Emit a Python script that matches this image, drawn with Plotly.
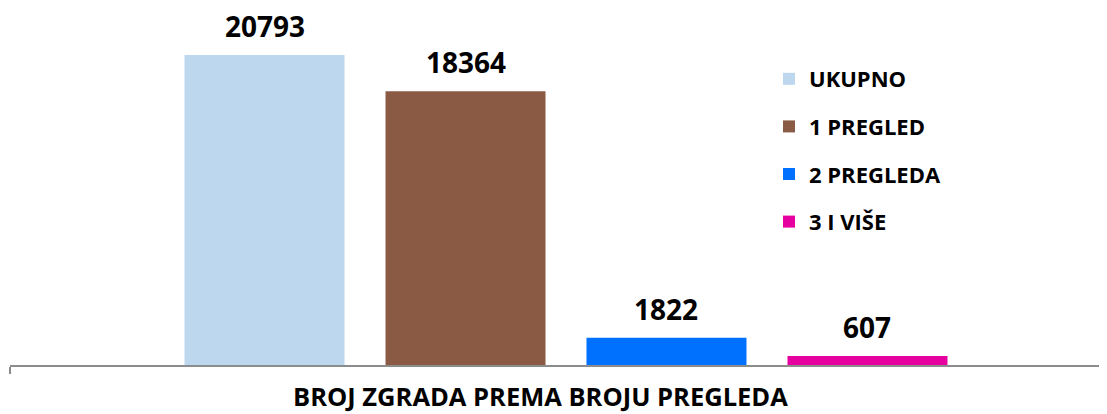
import plotly.graph_objects as go

category = ["BROJ ZGRADA PREMA BROJU PREGLEDA"]
series_names = ["UKUPNO", "1 PREGLED", "2 PREGLEDA", "3 I VIŠE"]
series_values = [20793, 18364, 1822, 607]
series_colors = ["#BDD7EE", "#8B5A45", "#0070FF", "#E600A0"]

# page body has an 8px default margin, so the figure is sized to the visible area
W, H = 1099, 406
ML, MR, MT, MB = 2, 0, 0, 49
BARGAP = 0.277
GROUPGAP = 0.204
PX_PER_CAT = 1112.0
plot_w = W - ML - MR
plot_h = H - MT - MB
x_range = [-0.5, -0.5 + plot_w / PX_PER_CAT]
FONT = "Open Sans"

fig = go.Figure()
for name, val, col in zip(series_names, series_values, series_colors):
    fig.add_trace(go.Bar(
        x=category, y=[val], name="<b>" + name + "</b>",
        marker=dict(color=col, line=dict(width=0)),
        legendgroup=name, hoverinfo="skip",
    ))

slot_px = (1 - BARGAP) * PX_PER_CAT / len(series_names)
for i, val in enumerate(series_values):
    fig.add_annotation(
        x=category[0], y=val, xref="x", yref="y",
        text=f"<b>{val}</b>", showarrow=False,
        xshift=(i - (len(series_values) - 1) / 2) * slot_px,
        yshift=29, yanchor="middle",
        font=dict(family=FONT, size=28, color="#000000"),
    )

fig.add_annotation(
    xref="paper", yref="paper", x=(532 - ML) / plot_w, y=-(388 - plot_h) / plot_h,
    text="<b>" + category[0] + "</b>", showarrow=False, xanchor="center", yanchor="middle",
    font=dict(family=FONT, size=25.5, color="#000000"),
)

fig.update_layout(
    width=W, height=H,
    margin=dict(l=ML, r=MR, t=MT, b=MB, pad=0),
    paper_bgcolor="white", plot_bgcolor="white",
    barmode="group", bargap=BARGAP, bargroupgap=GROUPGAP,
    showlegend=True,
    legend=dict(
        x=(761 - ML) / plot_w, y=1 - 50 / plot_h, xanchor="left", yanchor="top",
        font=dict(family=FONT, size=22, color="#000000"),
        tracegroupgap=16, bgcolor="rgba(0,0,0,0)", traceorder="grouped",
    ),
    xaxis=dict(
        range=x_range, showticklabels=False, showgrid=False, zeroline=False,
        showline=True, linecolor="#8C8C8C", linewidth=2,
        ticks="outside", tickson="boundaries", ticklen=7, tickwidth=2, tickcolor="#8C8C8C",
    ),
    yaxis=dict(range=[0, 23945], visible=False, showgrid=False, zeroline=False),
    font=dict(family=FONT),
)

fig.write_html("out.html")
